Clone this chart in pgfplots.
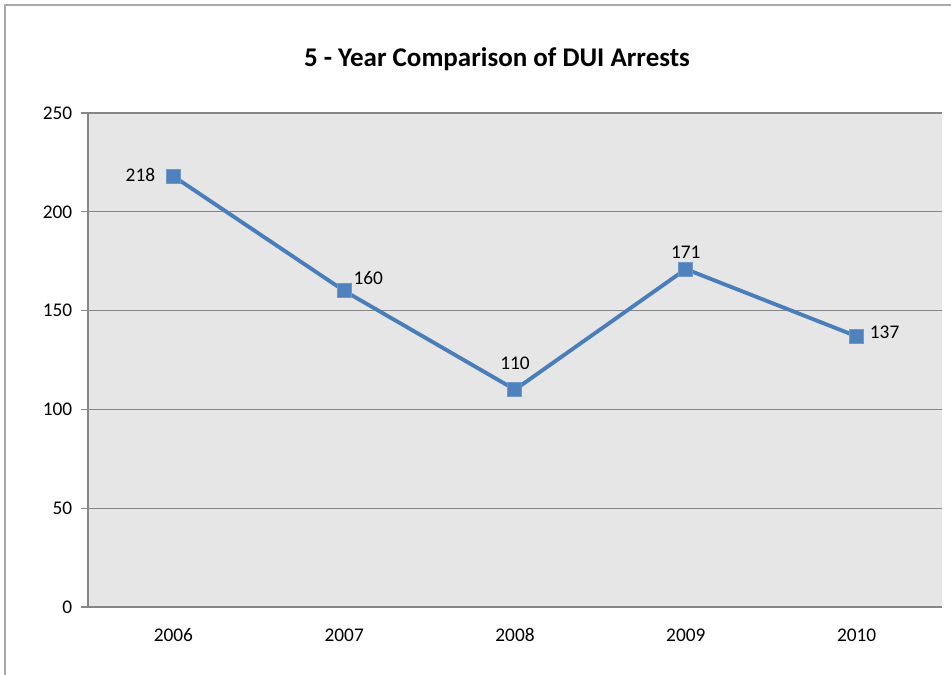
\documentclass[border=0pt]{standalone}
\usepackage{fontspec}
\setmainfont{Carlito}
\usepackage{pgfplots}
\pgfplotsset{compat=1.18}
\newlength\px
\setlength\px{0.75pt}
\definecolor{plotbg}{HTML}{E6E6E6}
\definecolor{gridgray}{HTML}{868686}
\definecolor{xlblue}{HTML}{4A7EBB}
\definecolor{xlfill}{HTML}{4F81BD}

% label offsets dx, dy in pt (1px = 0.75pt)
\pgfplotstableread{
x y dx dy
0 218 -24.75 0.75
1 160 18 9.75
2 110 0 19.5
3 171 0 12.75
4 137 21 3
}\arrests

\begin{document}
\begin{tikzpicture}
\useasboundingbox (-88\px,-68\px) rectangle (863\px,607\px);
\draw[gridgray!70, line width=1.5\px] (-83\px,-68\px) -- (-83\px,602\px) -- (863\px,602\px);
\node[font=\fontsize{20.25pt}{24pt}\selectfont\bfseries] at (409\px,548\px) {5 - Year Comparison of DUI Arrests};
\begin{axis}[
  at={(0,0)}, anchor=south west,
  scale only axis, width=854\px, height=494\px,
  xmin=-0.5, xmax=4.5, ymin=0, ymax=250,
  axis background/.style={fill=plotbg},
  axis line style={gridgray, line width=1.5\px},
  axis x line*=bottom, axis y line*=left,
  xtick={0,1,2,3,4}, xticklabels={2006,2007,2008,2009,2010},
  minor xtick={-0.5,0.5,1.5,2.5,3.5,4.5},
  xtick style={draw=none},
  minor x tick style={gridgray, line width=1.3\px},
  ytick={0,50,100,150,200,250},
  y tick style={gridgray, line width=1.3\px},
  tick align=outside,
  major tick length=5.25pt, minor tick length=5.25pt,
  ymajorgrids, major grid style={gridgray, line width=1.3\px},
  tick label style={font=\fontsize{14.5pt}{17pt}\selectfont, text=black},
  /pgf/number format/assume math mode=true,
  yticklabel style={xshift=-3pt},
  xticklabel style={yshift=-7.5pt},
  clip=false,
]
\addplot[xlblue, line width=2.9pt, mark=square*,
  mark size=5.25pt, mark options={fill=xlfill, draw=xlblue!80, line width=0.75pt},
  visualization depends on={\thisrow{dx} \as \dx},
  visualization depends on={\thisrow{dy} \as \dy},
  nodes near coords,
  nodes near coords style={anchor=center, xshift=\dx, yshift=\dy,
    font=\fontsize{14.5pt}{17pt}\selectfont, text=black},
] table[x=x, y=y] {\arrests};
\end{axis}
\end{tikzpicture}
\end{document}
